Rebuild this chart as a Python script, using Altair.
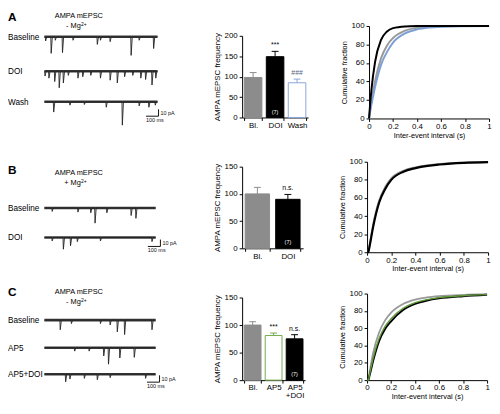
import altair as alt
import pandas as pd

FONT = "Liberation Sans"
W, H = 492, 398

# ---------------- bar-chart data ----------------
A_COND = ["Bl.", "DOI", "Wash"]
A_MEAN = [98, 149, 85]
A_SEM = [12, 13, 9]
A_SIG = ["", "***", "###"]
A_N = ["", "(7)", ""]

B_COND = ["Bl.", "DOI"]
B_MEAN = [100, 90]
B_SEM = [12, 9]
B_SIG = ["", "n.s."]
B_N = ["", "(7)"]

C_COND = ["Bl.", "AP5", "AP5\n+DOI"]
C_MEAN = [100, 81, 75]
C_SEM = [6, 4.5, 7.5]
C_SIG = ["", "***", "n.s."]
C_N = ["", "", "(7)"]

# ---------------- cumulative distributions ----------------
CUM_X = [0, 0.01, 0.02, 0.05, 0.1, 0.15, 0.2, 0.3, 0.4, 0.5, 0.6, 0.8, 1.0]
A_CUM_BL = [0, 10, 18, 40, 65, 79, 87, 95, 98, 99.2, 99.6, 99.9, 100]
A_CUM_WASH = [0, 8, 15, 34, 58, 72, 82, 92, 96.3, 98.3, 99.2, 99.8, 100]
A_CUM_DOI = [0, 17, 31, 61, 85, 94, 97.7, 99.5, 99.9, 100, 100, 100, 100]

B_CUM_BL = [0, 0, 7, 30, 57, 72, 81.5, 90, 93.8, 96, 97.5, 99, 99.7]
B_CUM_DOI = [0, 0, 6, 28, 55, 70, 80, 89, 93, 95.5, 97, 98.8, 99.6]

C_CUM_BL = [0, 0, 8, 31, 55, 69, 78, 88, 93, 95.5, 97, 98.5, 99.3]
C_CUM_AP5 = [0, 0, 6, 25, 48, 62, 71, 83, 89.5, 93, 95.3, 97.5, 98.8]
C_CUM_AP5DOI = [0, 0, 5, 22, 45, 59, 68, 81, 88, 92, 94.5, 97, 98.6]

# ---------------- example traces: event time (ms) and amplitude (pA) ----------------
A_DUR = 900
A_BASE_T = [10, 54, 87, 144, 228, 421, 446, 523, 690, 754, 869]
A_BASE_PA = [6, 24, 5, 23, 5, 11, 5, 7, 27, 5, 17]
A_DOI_T = [5, 36, 82, 118, 151, 190, 267, 305, 369, 446, 523, 580, 638, 703, 767, 805, 856, 886]
A_DOI_PA = [7, 10, 15, 24, 17, 6, 10, 8, 6, 10, 13, 17, 8, 6, 10, 12, 20, 10]
A_WASH_T = [74, 203, 318, 492, 620, 754, 831, 882]
A_WASH_PA = [15, 5, 4, 8, 34, 6, 8, 5]

B_DUR = 885
B_BASE_T = [62, 267, 369, 403, 497, 690, 728]
B_BASE_PA = [5, 6, 7, 22, 7, 11, 15]
B_DOI_T = [62, 151, 208, 262, 446, 856]
B_DOI_PA = [5, 17, 12, 6, 5, 6]

C_DUR = 885
C_BASE_T = [126, 215, 446, 523, 580, 638, 856]
C_BASE_PA = [14, 5, 5, 7, 17, 21, 14]
C_AP5_T = [241, 356, 472, 510, 600, 715]
C_AP5_PA = [5, 5, 12, 24, 15, 14]
C_AP5DOI_T = [169, 203, 318, 421, 523, 805]
C_AP5DOI_PA = [11, 7, 6, 8, 5, 6]

SCALE_MS = 100
SCALE_PA = 10

# ---------------- styles ----------------
GRAY = "#8c8c8c"
BLUE = "#8aa6d6"
GREEN = "#72aa4e"
INK = "#111111"
LABEL_SIZE = 8.3

layers = []


def text(t, x, y, size, align="left", weight="normal", color="black", baseline="middle"):
    return alt.Chart(pd.DataFrame({"t": [t]})).mark_text(
        fontSize=size, align=align, fontWeight=weight, color=color, baseline=baseline, font=FONT
    ).encode(text="t:N", x=alt.value(x), y=alt.value(y))


def mg_title(sign, x, y):
    # "AMPA mEPSC" / "± Mg2+" with the 2+ as superscript
    return [
        text("AMPA mEPSC", x, y, 7.5, align="center"),
        text(f"{sign} Mg", x + 2, y + 10.5, 7.5, align="right"),
        text("2+", x + 2.3, y + 8.5, 5, align="left"),
    ]


TX = alt.Scale(domain=[0, 900], range=[37, 152], nice=False, zero=False)


def trace_scale(y0):
    return alt.Scale(domain=[-30, 0], range=[y0 + 21, y0], nice=False, zero=False)


def trace(times, amps, dur, y0):
    ys = trace_scale(y0)
    rows = [{"t": 0, "pA": 0}]
    for t, a in sorted(zip(times, amps)):
        rows += [{"t": t - 3, "pA": 0}, {"t": t, "pA": -a}, {"t": min(t + 9, dur), "pA": 0}]
    rows.append({"t": dur, "pA": 0})
    band = alt.Chart(pd.DataFrame({"t0": [0], "t1": [dur], "pA": [0]})).mark_rule(
        strokeWidth=2.6, color="#3a3a3a"
    ).encode(
        x=alt.X("t0:Q", scale=TX, axis=None), x2="t1:Q", y=alt.Y("pA:Q", scale=ys, axis=None)
    )
    spikes = alt.Chart(pd.DataFrame(rows)).mark_line(strokeWidth=0.9, color="#222222").encode(
        x=alt.X("t:Q", scale=TX, axis=None), y=alt.Y("pA:Q", scale=ys, axis=None)
    )
    return [band, spikes]


def scale_bar(end_ms, y0, top_pa):
    ys = trace_scale(y0)
    bottom = -(top_pa + SCALE_PA)
    v = alt.Chart(pd.DataFrame({"t": [end_ms], "p1": [-top_pa], "p2": [bottom]})).mark_rule(
        strokeWidth=1, color=INK
    ).encode(x=alt.X("t:Q", scale=TX, axis=None), y=alt.Y("p1:Q", scale=ys, axis=None), y2="p2:Q")
    h = alt.Chart(pd.DataFrame({"t1": [end_ms - SCALE_MS], "t2": [end_ms], "p": [bottom]})).mark_rule(
        strokeWidth=1, color=INK
    ).encode(x=alt.X("t1:Q", scale=TX, axis=None), x2="t2:Q", y=alt.Y("p:Q", scale=ys, axis=None))
    lab1 = alt.Chart(pd.DataFrame({"t": [end_ms], "p": [-(top_pa + SCALE_PA / 2)], "s": [f"{SCALE_PA} pA"]})).mark_text(
        fontSize=5.5, align="left", dx=2, font=FONT, color=INK
    ).encode(x=alt.X("t:Q", scale=TX, axis=None), y=alt.Y("p:Q", scale=ys, axis=None), text="s:N")
    lab2 = alt.Chart(pd.DataFrame({"t": [end_ms - SCALE_MS], "p": [bottom], "s": [f"{SCALE_MS} ms"]})).mark_text(
        fontSize=5.5, align="left", baseline="top", dy=2, font=FONT, color=INK
    ).encode(x=alt.X("t:Q", scale=TX, axis=None), y=alt.Y("p:Q", scale=ys, axis=None), text="s:N")
    return [v, h, lab1, lab2]


def bar_panel(conds, means, sems, sigs, ns, fills, strokes, sigcolors, xr, yr, ymax, yticks):
    df = pd.DataFrame({
        "cond": conds, "mean": means, "top": [m + s for m, s in zip(means, sems)],
        "sig": sigs, "n": ns,
    })
    xs = alt.Scale(domain=conds, range=xr, paddingInner=0.2, paddingOuter=0.1)
    ys = alt.Scale(domain=[0, ymax], range=yr, nice=False, zero=True)
    xaxis = alt.Axis(
        orient="bottom", offset=yr[0] - H, title=None, labelAngle=0, labelFontSize=8,
        tickBand="extent", tickSize=3, labelPadding=1, labelFont=FONT,
        labelExpr="split(datum.label, '\\n')", labelFlush=False, labelLineHeight=8,
    )
    yaxis = alt.Axis(
        orient="left", offset=-xr[0], values=yticks, title="AMPA mEPSC frequency",
        titleFontSize=8, titleFontWeight="normal", labelFontSize=8, tickSize=3,
        titlePadding=3, labelPadding=2, labelFont=FONT, titleFont=FONT, labelFlush=False,
    )
    fill_s = alt.Scale(domain=conds, range=fills)
    stroke_s = alt.Scale(domain=conds, range=strokes)
    sig_s = alt.Scale(domain=conds, range=sigcolors)
    x_plain = alt.X("cond:N", scale=xs, axis=None)
    bars = alt.Chart(df).mark_bar(strokeWidth=1).encode(
        x=alt.X("cond:N", scale=xs, axis=xaxis, sort=conds),
        y=alt.Y("mean:Q", scale=ys, axis=yaxis),
        fill=alt.Fill("cond:N", scale=fill_s, legend=None),
        stroke=alt.Stroke("cond:N", scale=stroke_s, legend=None),
    )
    err = alt.Chart(df).mark_rule(strokeWidth=1).encode(
        x=x_plain, y=alt.Y("mean:Q", scale=ys, axis=None), y2="top:Q",
        color=alt.Color("cond:N", scale=stroke_s, legend=None),
    )
    cap = alt.Chart(df).mark_tick(thickness=1, size=7, opacity=1).encode(
        x=x_plain, y=alt.Y("top:Q", scale=ys, axis=None),
        color=alt.Color("cond:N", scale=stroke_s, legend=None),
    )
    sig = alt.Chart(df).mark_text(fontSize=7, baseline="bottom", dy=-3, font=FONT).encode(
        x=x_plain, y=alt.Y("top:Q", scale=ys, axis=None), text="sig:N",
        color=alt.Color("cond:N", scale=sig_s, legend=None),
    )
    nlab = alt.Chart(df).mark_text(fontSize=5.5, baseline="bottom", color="white", font=FONT).encode(
        x=x_plain, y=alt.value(yr[0] - 3), text="n:N",
    )
    return [bars, err, cap, sig, nlab]


def cum_panel(xr, yr, curves):
    xs = alt.Scale(domain=[0, 1], range=xr, nice=False, zero=False)
    ys = alt.Scale(domain=[0, 100], range=yr, nice=False, zero=False)
    xaxis = alt.Axis(
        orient="bottom", offset=yr[0] - H, values=[0, 0.2, 0.4, 0.6, 0.8, 1], format="~g",
        title="Inter-event interval (s)", titleFontSize=7.5, titleFontWeight="normal",
        labelFontSize=8, tickSize=3, labelPadding=1, titlePadding=1, labelFlush=False,
        labelOverlap=False, labelFont=FONT, titleFont=FONT,
    )
    yaxis = alt.Axis(
        orient="left", offset=-xr[0], values=[0, 20, 40, 60, 80, 100],
        title="Cumulative fraction", titleFontSize=7.5, titleFontWeight="normal",
        labelFontSize=8, tickSize=3, labelPadding=2, titlePadding=3, labelFlush=False,
        labelOverlap=False, labelFont=FONT, titleFont=FONT,
    )
    out = []
    for i, (vals, color, width) in enumerate(curves):
        df = pd.DataFrame({"x": CUM_X, "y": vals})
        out.append(
            alt.Chart(df).mark_line(color=color, strokeWidth=width, interpolate="monotone").encode(
                x=alt.X("x:Q", scale=xs, axis=xaxis if i == 0 else None),
                y=alt.Y("y:Q", scale=ys, axis=yaxis if i == 0 else None),
            )
        )
    return out


# ---------------- Row A ----------------
layers += [text("A", 0, 10, 12, weight="bold", baseline="alphabetic")]
layers += mg_title("-", 72, 4.5)
layers += [
    text("Baseline", 0, 27, LABEL_SIZE),
    text("DOI", 0, 62, LABEL_SIZE),
    text("Wash", 0, 93, LABEL_SIZE),
]
layers += trace(A_BASE_T, A_BASE_PA, A_DUR, 26)
layers += trace(A_DOI_T, A_DOI_PA, A_DUR, 61)
layers += trace(A_WASH_T, A_WASH_PA, A_DUR, 92)
layers += scale_bar(908, 92, 11)
layers += bar_panel(A_COND, A_MEAN, A_SEM, A_SIG, A_N,
                    [GRAY, "black", "white"], [GRAY, "black", BLUE], ["black", "black", "#55657f"],
                    [238, 305], [108, 25], 200, [0, 50, 100, 150, 200])
layers += cum_panel([367, 489], [109, 15],
                    [(A_CUM_BL, "#999999", 2), (A_CUM_WASH, "#7c9fd4", 2), (A_CUM_DOI, "black", 2)])

# ---------------- Row B ----------------
layers += [text("B", 0, 165, 12, weight="bold", baseline="alphabetic")]
layers += mg_title("+", 72, 164)
layers += [
    text("Baseline", 0, 201, LABEL_SIZE),
    text("DOI", 0, 231, LABEL_SIZE),
]
layers += trace(B_BASE_T, B_BASE_PA, B_DUR, 200)
layers += trace(B_DOI_T, B_DOI_PA, B_DUR, 230)
layers += scale_bar(923, 230, 3)
layers += bar_panel(B_COND, B_MEAN, B_SEM, B_SIG, B_N,
                    [GRAY, "black"], [GRAY, "black"], ["black", "black"],
                    [238, 300], [241, 158], 150, [0, 50, 100, 150])
layers += cum_panel([365, 488], [245, 153],
                    [(B_CUM_BL, "#999999", 2), (B_CUM_DOI, "black", 2.2)])

# ---------------- Row C ----------------
layers += [text("C", 0, 289, 12, weight="bold", baseline="alphabetic")]
layers += mg_title("-", 72, 285)
layers += [
    text("Baseline", 0, 315, LABEL_SIZE),
    text("AP5", 0, 343, LABEL_SIZE),
    text("AP5+DOI", 0, 370, LABEL_SIZE),
]
layers += trace(C_BASE_T, C_BASE_PA, C_DUR, 314)
layers += trace(C_AP5_T, C_AP5_PA, C_DUR, 342)
layers += trace(C_AP5DOI_T, C_AP5DOI_PA, C_DUR, 369)
layers += scale_bar(916, 369, 1.5)
layers += bar_panel(C_COND, C_MEAN, C_SEM, C_SIG, C_N,
                    [GRAY, "white", "black"], [GRAY, GREEN, "black"], ["black", "black", "black"],
                    [238, 302], [375, 291], 150, [0, 50, 100, 150])
layers += cum_panel([365, 487], [375, 287],
                    [(C_CUM_BL, "#999999", 1.8), (C_CUM_AP5DOI, "black", 2), (C_CUM_AP5, "#5f9a3a", 1.4)])

chart = alt.layer(*layers).resolve_scale(
    x="independent", y="independent", color="independent", fill="independent", stroke="independent"
).properties(
    width=W, height=H, padding=0, autosize=alt.AutoSizeParams(type="none")
).configure(font=FONT).configure_view(stroke=None).configure_axis(
    domainColor="black", tickColor="black", labelColor="black", titleColor="black", grid=False
)

chart.save("out.html", embed_options={"renderer": "svg", "actions": False})
